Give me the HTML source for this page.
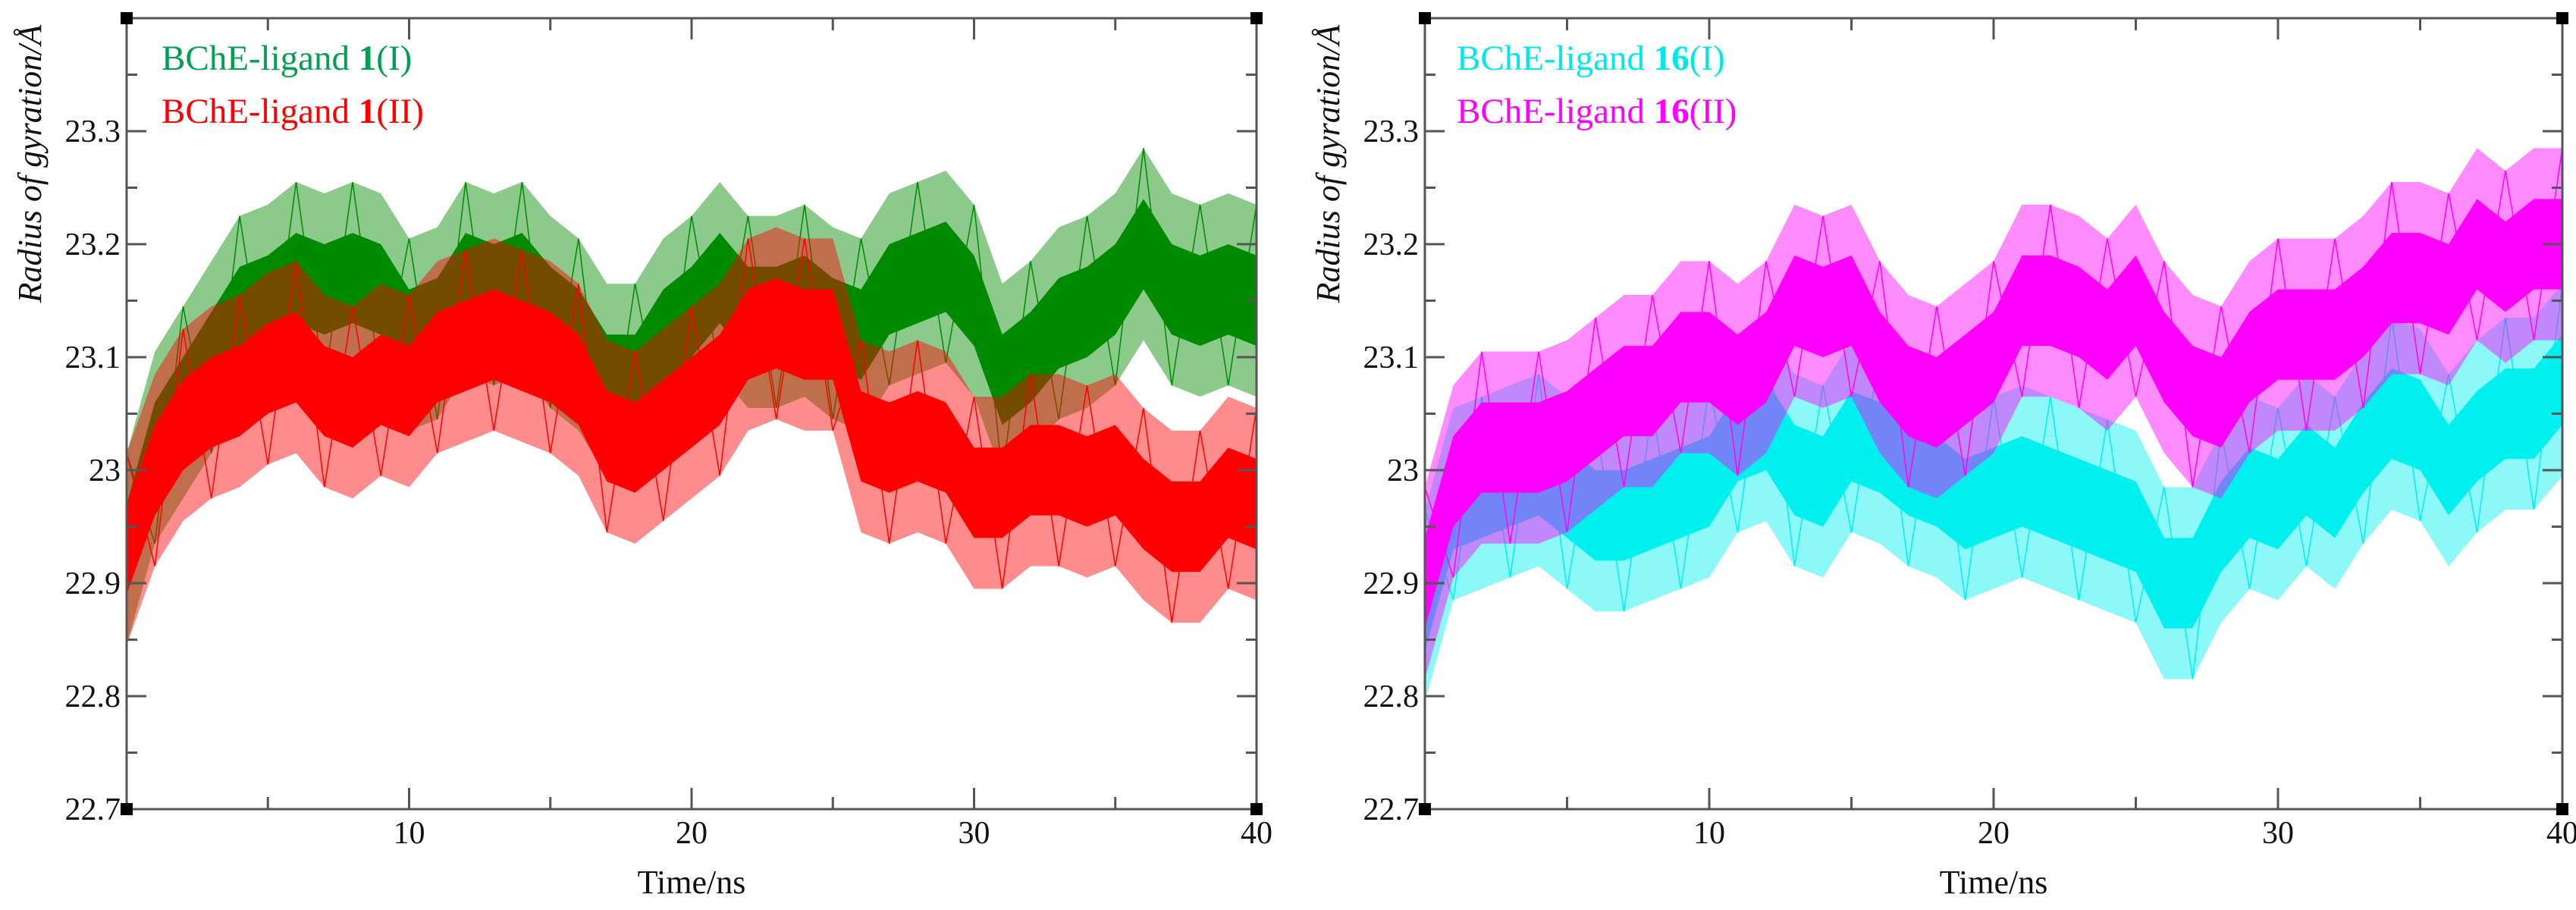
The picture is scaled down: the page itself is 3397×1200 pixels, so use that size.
<!DOCTYPE html>
<html><head><meta charset="utf-8"><style>
html,body{margin:0;padding:0;background:#fff;}
svg{display:block;}
text{font-family:"Liberation Serif",serif;}
</style></head><body>
<svg id="chart" width="3397" height="1200" viewBox="0 0 3397 1200" xmlns="http://www.w3.org/2000/svg"></svg>
<script>
const times=[0,1,2,3,4,5,6,7,8,9,10,11,12,13,14,15,16,17,18,19,20,21,22,23,24,25,26,27,28,29,30,31,32,33,34,35,36,37,38,39,40];
const lig1I=[22.93,23.02,23.06,23.1,23.14,23.15,23.17,23.16,23.17,23.16,23.12,23.13,23.17,23.16,23.17,23.14,23.12,23.08,23.08,23.12,23.14,23.17,23.14,23.14,23.15,23.13,23.12,23.16,23.17,23.18,23.15,23.08,23.1,23.13,23.14,23.16,23.2,23.16,23.15,23.16,23.15];
const lig1II=[22.93,23.0,23.04,23.06,23.07,23.09,23.1,23.07,23.06,23.08,23.07,23.1,23.11,23.12,23.11,23.1,23.08,23.03,23.02,23.04,23.06,23.08,23.12,23.13,23.12,23.12,23.03,23.02,23.03,23.02,22.98,22.98,23.0,23.0,22.99,23.0,22.97,22.95,22.95,22.98,22.97];
const lig16I=[22.88,22.97,22.98,22.99,23.0,22.98,22.96,22.96,22.97,22.98,22.99,23.03,23.04,23.0,22.99,23.03,23.02,23.0,22.99,22.97,22.98,22.99,22.98,22.97,22.96,22.95,22.9,22.9,22.95,22.98,22.97,23.0,22.98,23.02,23.05,23.04,23.0,23.03,23.05,23.05,23.08];
const lig16II=[22.9,22.99,23.02,23.02,23.02,23.03,23.05,23.07,23.07,23.1,23.1,23.08,23.1,23.15,23.14,23.15,23.1,23.07,23.06,23.08,23.1,23.15,23.15,23.14,23.12,23.15,23.1,23.07,23.06,23.1,23.12,23.12,23.12,23.14,23.17,23.17,23.16,23.2,23.18,23.2,23.2];
const coreHalf=0.04;
const spikeHalf=0.085;
const yTicks=[22.7,22.8,22.9,23,23.1,23.2,23.3];
const yTickLabels=["22.7","22.8","22.9","23","23.1","23.2","23.3"];
const xTicks=[10,20,30,40];
const xTickLabels=["10","20","30","40"];

const NS="http://www.w3.org/2000/svg";
const svg=document.getElementById('chart');
function mk(tag,attrs,parent){const e=document.createElementNS(NS,tag);for(const k in attrs)e.setAttribute(k,attrs[k]);(parent||svg).appendChild(e);return e;}

const Y0=1067,Y1=24,V0=22.7,V1=23.4;
function yS(v){return Y0+(v-V0)/(V1-V0)*(Y1-Y0);}

function panel(px0,px1,titleX,series,legendX,prefix){
  const g=mk('g',{});
  
  
  const xS=t=>px0+t/40*(px1-px0);
  series.forEach(s=>{
    const sg=mk('g',{},g);
    
    
    let up=[],dn=[],cu=[],cd=[],zz=[];
    s.vals.forEach((v,i)=>{const x=xS(times[i]);
      up.push(x+','+yS(v+spikeHalf));dn.unshift(x+','+yS(v-spikeHalf));
      cu.push(x+','+yS(v+coreHalf));cd.unshift(x+','+yS(v-coreHalf));
      zz.push(x+','+yS(v+(i%2?-spikeHalf:spikeHalf)));});
    const o=mk('polygon',{points:up.concat(dn).join(' '),fill:s.color,'fill-opacity':0.45},sg);
    
    
    const c=mk('polygon',{points:cu.concat(cd).join(' '),fill:s.color},sg);
    
    
    const z=mk('polyline',{points:zz.join(' '),fill:'none',stroke:s.color,'stroke-width':1.5},sg);
    
    
  });
  const fr=mk('rect',{x:px0,y:Y1,width:px1-px0,height:Y0-Y1,fill:'none',stroke:'#555','stroke-width':3},g);
  
  
  for(let v=22.75;v<23.4;v+=0.05){
    const y=yS(v);const major=Math.abs(v*10-Math.round(v*10))<0.01;const L=major?26:14;
    mk('line',{x1:px0,y1:y,x2:px0+L,y2:y,stroke:'#555','stroke-width':3},g);
    mk('line',{x1:px1,y1:y,x2:px1-L,y2:y,stroke:'#555','stroke-width':3},g);
  }
  yTicks.forEach((v,i)=>{
    const t=mk('text',{x:px0-8,y:yS(v)+14,'font-size':42,'text-anchor':'end',fill:'#111'},g);
    t.textContent=yTickLabels[i];
    
    
  });
  for(let t=5;t<40;t+=5){
    const x=xS(t);const L=t%10===0?28:16;
    mk('line',{x1:x,y1:Y0,x2:x,y2:Y0-L,stroke:'#555','stroke-width':3},g);
    mk('line',{x1:x,y1:Y1,x2:x,y2:Y1+L,stroke:'#555','stroke-width':3},g);
  }
  xTicks.forEach((v,i)=>{
    const t=mk('text',{x:xS(v),y:1112,'font-size':42,'text-anchor':'middle',fill:'#111'},g);
    t.textContent=xTickLabels[i];
    
    
  });
  [[px0,Y1],[px1,Y1],[px0,Y0],[px1,Y0]].forEach(p=>{
    const r=mk('rect',{x:p[0]-8,y:p[1]-8,width:16,height:16,fill:'#000'},g);
    
    
  });
  const xt=mk('text',{x:(px0+px1)/2,y:1178,'font-size':44,'text-anchor':'middle',fill:'#111'},g);
  xt.textContent='Time/ns';
  
  
  const yt=mk('text',{x:0,y:0,'font-size':44,'font-style':'italic','text-anchor':'middle',fill:'#111',transform:'translate('+(titleX+14)+',216) rotate(-90)'},g);
  yt.textContent='Radius of gyration/Å';
  
  
  series.forEach((s,i)=>{
    const t=mk('text',{x:legendX,y:92+i*70,'font-size':47,fill:s.legend},g);
    t.innerHTML='BChE-ligand <tspan font-weight="bold">'+s.num+'</tspan>('+s.tag+')';
    
    
  });
}
panel(167,1657,40,[
  {name:'series-ligand1-I',vals:lig1I,color:'#008a00',legend:'#00a050',num:'1',tag:'I'},
  {name:'series-ligand1-II',vals:lig1II,color:'#ff0000',legend:'#ff0000',num:'1',tag:'II'}
],213,'left');
panel(1879,3379,1752,[
  {name:'series-ligand16-I',vals:lig16I,color:'#00f0f0',legend:'#00e8e8',num:'16',tag:'I'},
  {name:'series-ligand16-II',vals:lig16II,color:'#ff00ff',legend:'#ff00ff',num:'16',tag:'II'}
],1921,'right');
</script>
</body></html>
